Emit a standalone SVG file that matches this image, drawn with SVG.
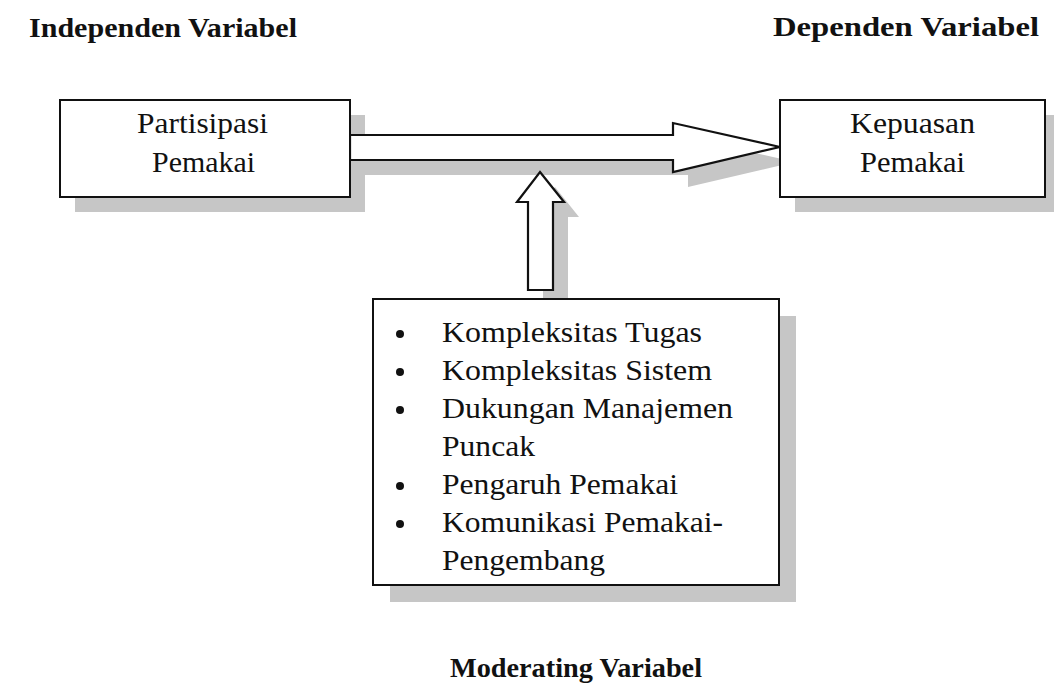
<svg xmlns="http://www.w3.org/2000/svg" width="1054" height="700" viewBox="0 0 1054 700">
<defs>
<style>
.hdr{font-family:"Liberation Serif","Times New Roman",serif;font-weight:bold;font-size:28px;fill:#111}
.txt{font-family:"Liberation Serif","Times New Roman",serif;font-size:30px;fill:#111}
.box{fill:#fff;stroke:#111;stroke-width:2}
.shd{fill:#c6c6c6}
.arr{fill:#fff;stroke:#111;stroke-width:2.2;stroke-linejoin:miter}
</style>
</defs>
<rect width="1054" height="700" fill="#fff"/>
<text class="hdr" x="29" y="37" textLength="268" lengthAdjust="spacingAndGlyphs">Independen Variabel</text>
<text class="hdr" x="773" y="36" textLength="266" lengthAdjust="spacingAndGlyphs">Dependen Variabel</text>
<text class="hdr" x="450" y="677" textLength="252" lengthAdjust="spacingAndGlyphs">Moderating Variabel</text>

<g id="shadows">
<rect class="shd" x="75" y="115" width="290" height="97"/>
<rect class="shd" x="795" y="115" width="265" height="97"/>
<rect class="shd" x="390" y="316" width="406" height="286"/>
<polygon class="shd" points="365,150 688,150 688,138 795,162 688,187 688,175 365,175"/>
<polygon class="shd" points="555,187 579,217 568,217 568,305 543,305 543,217 532,217"/>
</g>

<g id="connectors">
<polygon class="arr" points="350,135 673,135 673,123 780,147 673,172 673,160 350,160"/>
<polygon class="arr" points="540,172 564,202 553,202 553,290 528,290 528,202 517,202"/>
</g>

<g id="node-partisipasi">
<rect class="box" x="60" y="100" width="290" height="97"/>
<text class="txt" x="137" y="133" textLength="131" lengthAdjust="spacingAndGlyphs">Partisipasi</text>
<text class="txt" x="152" y="172" textLength="103" lengthAdjust="spacingAndGlyphs">Pemakai</text>
</g>

<g id="node-kepuasan">
<rect class="box" x="780" y="100" width="265" height="97"/>
<text class="txt" x="850" y="133" textLength="125" lengthAdjust="spacingAndGlyphs">Kepuasan</text>
<text class="txt" x="860" y="172" textLength="105" lengthAdjust="spacingAndGlyphs">Pemakai</text>
</g>

<g id="node-moderating">
<rect class="box" x="373" y="299" width="406" height="286"/>
<g fill="#111">
<circle cx="400" cy="334" r="4"/>
<circle cx="400" cy="372" r="4"/>
<circle cx="400" cy="410" r="4"/>
<circle cx="400" cy="486" r="4"/>
<circle cx="400" cy="524" r="4"/>
</g>
<text class="txt" x="442" y="342" textLength="260" lengthAdjust="spacingAndGlyphs">Kompleksitas Tugas</text>
<text class="txt" x="442" y="380" textLength="270" lengthAdjust="spacingAndGlyphs">Kompleksitas Sistem</text>
<text class="txt" x="442" y="418" textLength="291" lengthAdjust="spacingAndGlyphs">Dukungan Manajemen</text>
<text class="txt" x="442" y="456" textLength="93" lengthAdjust="spacingAndGlyphs">Puncak</text>
<text class="txt" x="442" y="494" textLength="236" lengthAdjust="spacingAndGlyphs">Pengaruh Pemakai</text>
<text class="txt" x="442" y="532" textLength="281" lengthAdjust="spacingAndGlyphs">Komunikasi Pemakai-</text>
<text class="txt" x="442" y="570" textLength="163" lengthAdjust="spacingAndGlyphs">Pengembang</text>
</g>
</svg>
